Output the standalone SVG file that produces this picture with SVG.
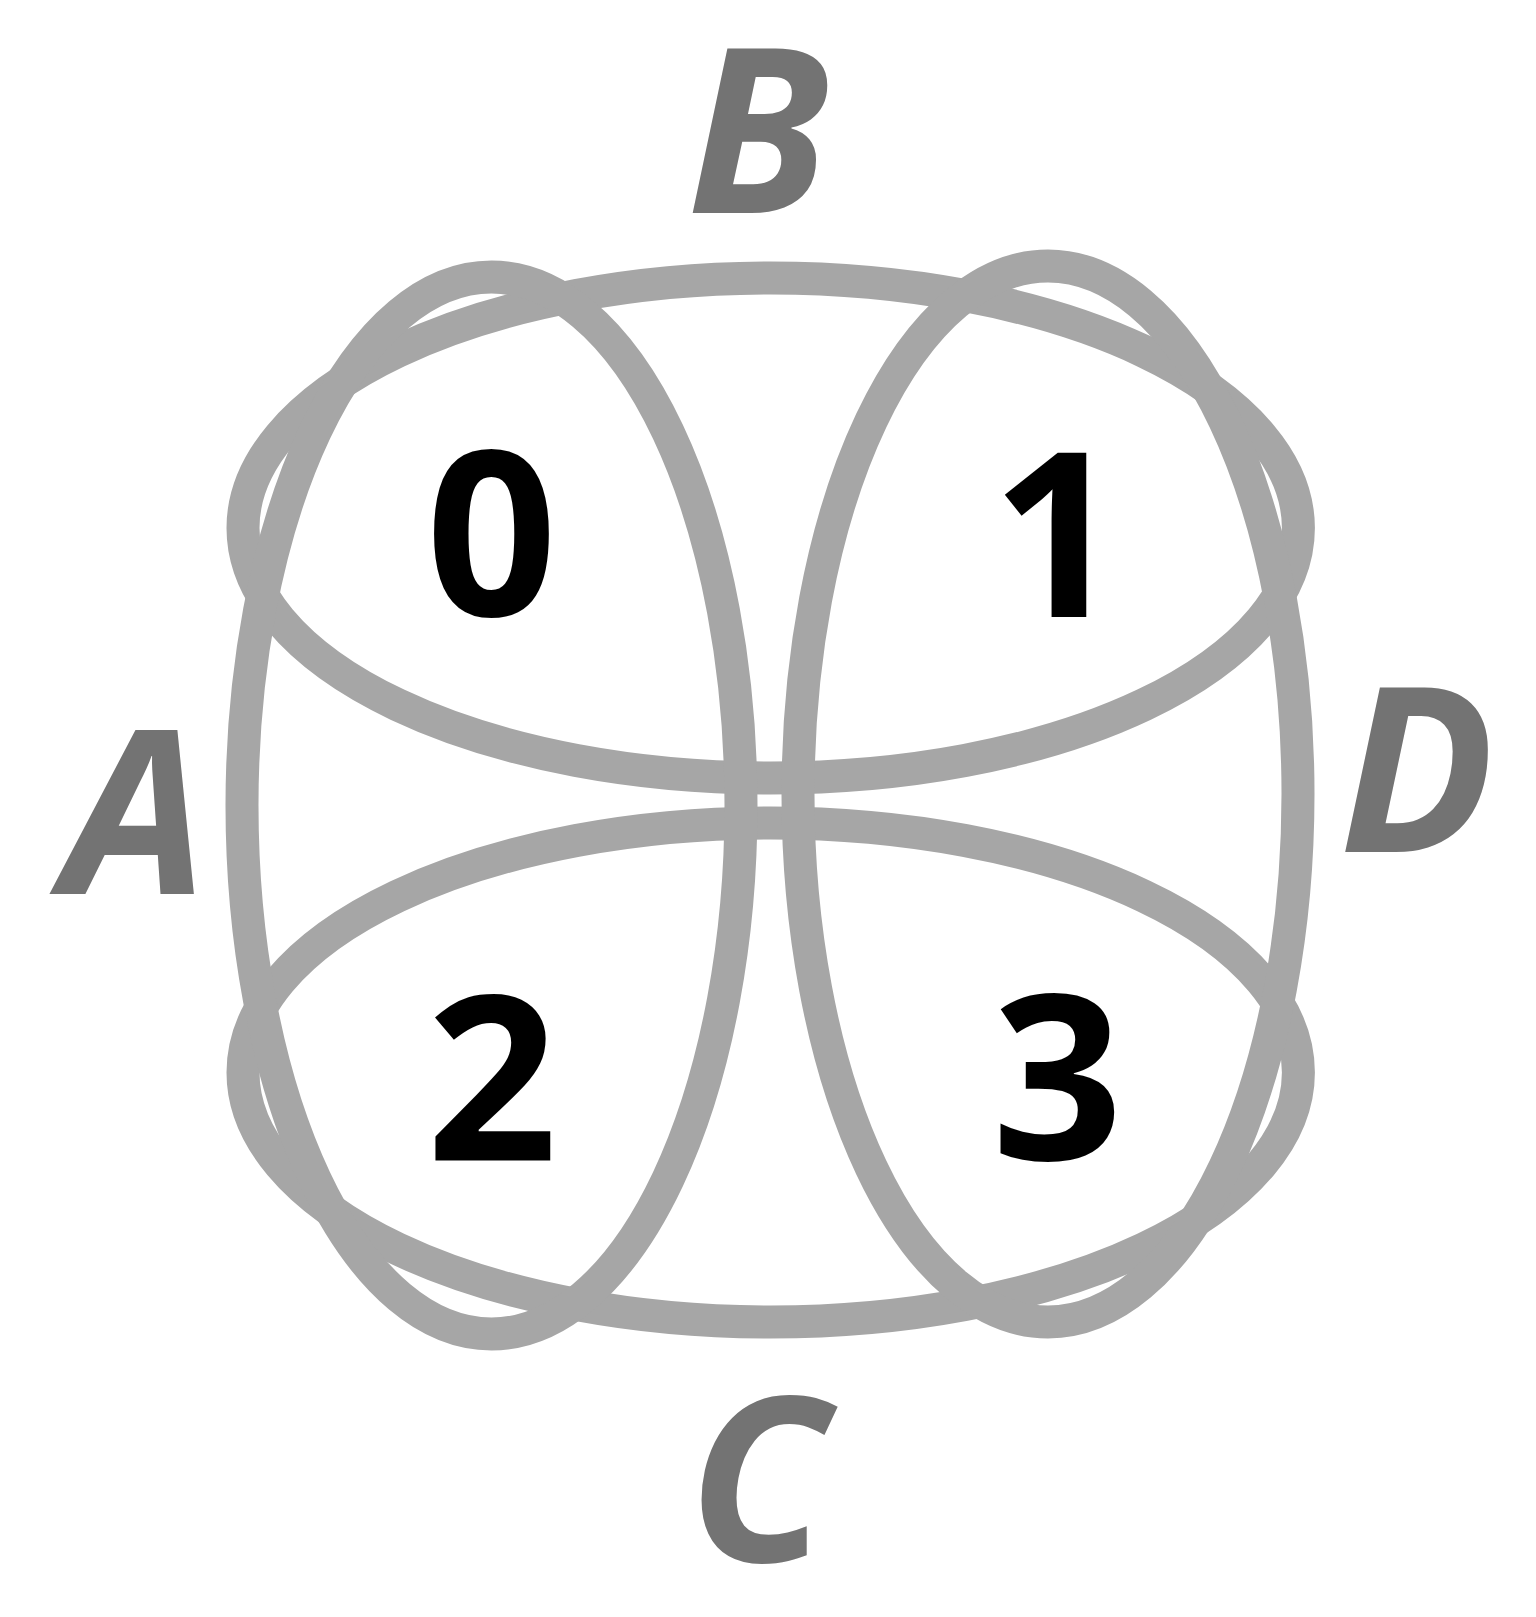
<svg xmlns="http://www.w3.org/2000/svg" width="1536" height="1617" viewBox="0 0 1536 1617">
<style>
.ring{fill:none;stroke:#a6a6a6;stroke-width:33}
.lbl{font-family:"Open Sans","Liberation Sans",sans-serif;font-weight:700;font-style:italic;font-size:230px;fill:#737373;text-anchor:middle}
.num{font-family:"Open Sans","Liberation Sans",sans-serif;font-weight:700;font-size:230px;fill:#000;text-anchor:middle}
</style>
<rect width="1536" height="1617" fill="#fff"/>
<g id="sets">
<g id="set-top"><ellipse class="ring" cx="770.7" cy="528" rx="527.7" ry="250"/></g>
<g id="set-bottom"><ellipse class="ring" cx="770.7" cy="1072.5" rx="527.7" ry="249.5"/></g>
<g id="set-left"><ellipse class="ring" cx="491.5" cy="805.5" rx="249.5" ry="528.5"/></g>
<g id="set-right"><ellipse class="ring" cx="1048" cy="794" rx="250" ry="528"/></g>
</g>
<g id="labels">
<text id="label-A" class="lbl" x="135.5" y="894">A</text>
<text id="label-B" class="lbl" x="758" y="212.7">B</text>
<text id="label-C" class="lbl" x="758" y="1562">C</text>
<text id="label-D" class="lbl" x="1417" y="852">D</text>
</g>
<g id="regions">
<text id="r0" class="num" x="491.5" y="616">0</text>
<text id="r1" class="num" x="1057" y="616.5">1</text>
<text id="r2" class="num" x="492" y="1161">2</text>
<text id="r3" class="num" x="1057.5" y="1160">3</text>
</g>
</svg>
